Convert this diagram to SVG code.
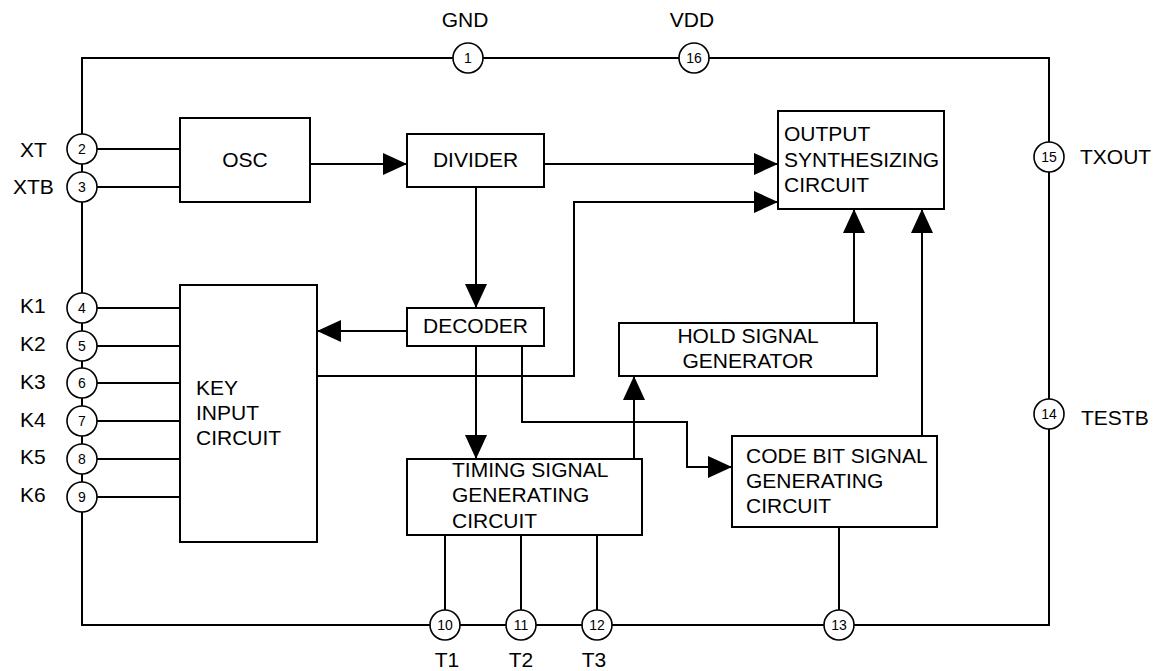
<svg xmlns="http://www.w3.org/2000/svg" width="1159" height="671" viewBox="0 0 1159 671">
<defs>
<marker id="ah" viewBox="0 0 24 22" refX="24" refY="11" markerWidth="24" markerHeight="22" orient="auto" markerUnits="userSpaceOnUse">
<path d="M0,0 L24,11 L0,22 z" fill="#000"/>
</marker>
<style>
.box{fill:#fff;stroke:#000;stroke-width:2}
.ln{fill:none;stroke:#000;stroke-width:2}
.ar{fill:none;stroke:#000;stroke-width:2;marker-end:url(#ah)}
.pin{fill:#fff;stroke:#000;stroke-width:1.6}
.pn{font-family:"Liberation Sans",Arial,sans-serif;font-size:14px;text-anchor:middle;fill:#000}
.t{font-family:"Liberation Sans",Arial,sans-serif;font-size:21px;fill:#000}
.c{text-anchor:middle}
</style>
</defs>
<rect width="1159" height="671" fill="#fff"/>
<g id="connectors">
<path class="ln" d="M82,58 H1049 V625 H82 Z"/>
<path class="ln" d="M82,149 H180 M82,187 H180"/>
<path class="ln" d="M82,308 H180 M82,346 H180 M82,383 H180 M82,421 H180 M82,459 H180 M82,497 H180"/>
<path class="ar" d="M310,164 H407"/>
<path class="ar" d="M544,164 H778"/>
<path class="ar" d="M476,187 V308"/>
<path class="ar" d="M407,331 H317"/>
<path class="ar" d="M317,376 H574 V202 H778"/>
<path class="ar" d="M476,346 V459"/>
<path class="ar" d="M522,346 V422 H687 V467 H732"/>
<path class="ar" d="M634,459 V376"/>
<path class="ar" d="M854,323 V209"/>
<path class="ar" d="M922,436 V209"/>
<path class="ln" d="M445,535 V625 M521,535 V625 M597,535 V625 M839,527 V625"/>
</g>
<g id="osc"><rect class="box" x="180" y="118" width="130" height="84"/><text class="t c" x="245" y="167">OSC</text></g>
<g id="divider"><rect class="box" x="407" y="134" width="137" height="53"/><text class="t c" x="475.5" y="167">DIVIDER</text></g>
<g id="output"><rect class="box" x="778" y="111" width="166" height="98"/><text class="t" x="784" y="141">OUTPUT</text><text class="t" x="784" y="167">SYNTHESIZING</text><text class="t" x="784" y="192">CIRCUIT</text></g>
<g id="decoder"><rect class="box" x="407" y="308" width="137" height="38"/><text class="t c" x="475.5" y="333">DECODER</text></g>
<g id="hold"><rect class="box" x="619" y="323" width="258" height="53"/><text class="t c" x="748" y="343">HOLD SIGNAL</text><text class="t c" x="748" y="368">GENERATOR</text></g>
<g id="key"><rect class="box" x="180" y="285" width="137" height="257"/><text class="t" x="196" y="395">KEY</text><text class="t" x="196" y="420">INPUT</text><text class="t" x="196" y="445">CIRCUIT</text></g>
<g id="timing"><rect class="box" x="407" y="459" width="235" height="76"/><text class="t" x="452" y="477">TIMING SIGNAL</text><text class="t" x="452" y="502">GENERATING</text><text class="t" x="452" y="528">CIRCUIT</text></g>
<g id="codebit"><rect class="box" x="732" y="436" width="205" height="91"/><text class="t" x="746" y="463">CODE BIT SIGNAL</text><text class="t" x="746" y="488">GENERATING</text><text class="t" x="746" y="513">CIRCUIT</text></g>
<g id="pin1"><circle class="pin" cx="468" cy="58" r="15"/><text class="pn" x="468" y="63">1</text><text class="t c" x="465" y="27">GND</text></g>
<g id="pin16"><circle class="pin" cx="694" cy="58" r="15"/><text class="pn" x="694" y="63">16</text><text class="t c" x="692" y="27">VDD</text></g>
<g id="pin2"><circle class="pin" cx="82" cy="149" r="15"/><text class="pn" x="82" y="154">2</text><text class="t" x="20" y="157">XT</text></g>
<g id="pin3"><circle class="pin" cx="82" cy="187" r="15"/><text class="pn" x="82" y="192">3</text><text class="t" x="13" y="194">XTB</text></g>
<g id="pin4"><circle class="pin" cx="82" cy="308" r="15"/><text class="pn" x="82" y="313">4</text><text class="t" x="20" y="313">K1</text></g>
<g id="pin5"><circle class="pin" cx="82" cy="346" r="15"/><text class="pn" x="82" y="351">5</text><text class="t" x="20" y="351">K2</text></g>
<g id="pin6"><circle class="pin" cx="82" cy="383" r="15"/><text class="pn" x="82" y="388">6</text><text class="t" x="20" y="389">K3</text></g>
<g id="pin7"><circle class="pin" cx="82" cy="421" r="15"/><text class="pn" x="82" y="426">7</text><text class="t" x="20" y="427">K4</text></g>
<g id="pin8"><circle class="pin" cx="82" cy="459" r="15"/><text class="pn" x="82" y="464">8</text><text class="t" x="20" y="464">K5</text></g>
<g id="pin9"><circle class="pin" cx="82" cy="497" r="15"/><text class="pn" x="82" y="502">9</text><text class="t" x="20" y="502">K6</text></g>
<g id="pin10"><circle class="pin" cx="445" cy="625" r="15"/><text class="pn" x="445" y="630">10</text><text class="t c" x="447" y="667">T1</text></g>
<g id="pin11"><circle class="pin" cx="521" cy="625" r="15"/><text class="pn" x="521" y="630">11</text><text class="t c" x="521" y="667">T2</text></g>
<g id="pin12"><circle class="pin" cx="597" cy="625" r="15"/><text class="pn" x="597" y="630">12</text><text class="t c" x="594" y="667">T3</text></g>
<g id="pin13"><circle class="pin" cx="839" cy="625" r="15"/><text class="pn" x="839" y="630">13</text></g>
<g id="pin14"><circle class="pin" cx="1049" cy="414" r="15"/><text class="pn" x="1049" y="419">14</text><text class="t" x="1081" y="425">TESTB</text></g>
<g id="pin15"><circle class="pin" cx="1049" cy="157" r="15"/><text class="pn" x="1049" y="162">15</text><text class="t" x="1080" y="164">TXOUT</text></g>
</svg>
